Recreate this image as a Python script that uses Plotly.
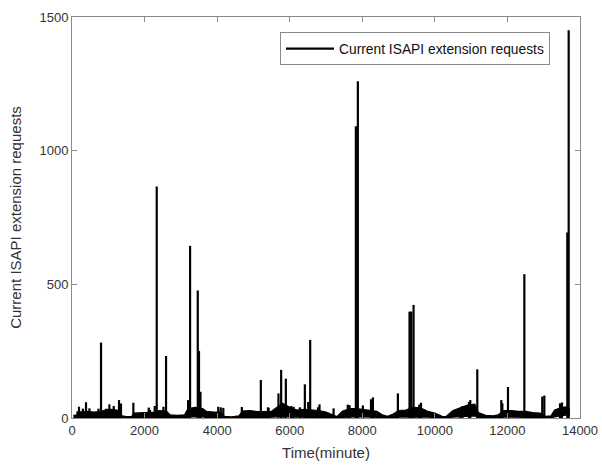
import plotly.graph_objects as go

# Baseline band (local low / high of the dense noisy series)
env_t = [40, 175, 200, 400, 600, 800, 900, 1100, 1300, 1380, 1500, 1650, 1700, 1900,
         2100, 2300, 2400, 2600, 2700, 2900, 3100, 3200, 3400, 3600, 3700, 3900, 4100,
         4200, 4400, 4600, 4700, 4900, 5100, 5300, 5500, 5650, 5800, 6000, 6200, 6400,
         6600, 6800, 7000, 7200, 7300, 7450, 7650, 7850, 8000, 8200, 8400, 8550, 8700,
         8850, 9000, 9200, 9400, 9600, 9800, 10000, 10200, 10300, 10500, 10700, 10900,
         11100, 11200, 11400, 11600, 11750, 11900, 12100, 12300, 12500, 12700, 12900,
         13050, 13200, 13300, 13500, 13650, 13720]
env_lo = [0, 1, 2, 3, 2, 3, 4, 4, 4, 1, 0, 0, 2, 2,
          2, 2, 4, 3, 1, 0, 1, 5, 6, 5, 2, 2, 2,
          0, 0, 0, 3, 4, 3, 2, 3, 5, 8, 4, 4, 4,
          4, 4, 2, 1, 0, 3, 5, 5, 5, 4, 3, 1, 0,
          1, 4, 4, 6, 6, 4, 2, 0, 0, 4, 6, 8,
          8, 3, 1, 0, 1, 4, 4, 4, 4, 2, 2,
          0, 1, 5, 10, 12, 8]
env_hi = [10, 12, 22, 25, 22, 24, 30, 32, 28, 8, 5, 6, 18, 20,
          22, 22, 28, 26, 12, 10, 12, 35, 40, 35, 25, 22, 22,
          6, 4, 8, 26, 28, 24, 24, 25, 40, 55, 40, 30, 32,
          30, 28, 22, 12, 5, 25, 35, 35, 32, 30, 25, 12, 6,
          15, 28, 30, 40, 38, 25, 18, 6, 5, 28, 38, 48,
          52, 20, 10, 8, 12, 28, 28, 25, 25, 20, 18,
          6, 8, 30, 40, 42, 30]

# Spikes (time, peak value)
spike_t = [150, 193, 300, 386, 480, 730, 800, 950, 1030, 1150, 1296, 1350, 1691, 2115,
           2150, 2280, 2335, 2520, 2592, 3200, 3254, 3466, 3500, 3540, 4030, 4100, 4170,
           4680, 5204, 5400, 5420, 5690, 5764, 5830, 5893, 6040, 6104, 6280, 6417, 6510,
           6564, 6780, 6821, 7208, 7600, 7650, 7823, 7878, 8016, 8240, 8292, 8981, 9302,
           9349, 9413, 9570, 9617, 10700, 10760, 10940, 10976, 11169, 11831, 11860, 12015,
           12466, 12960, 13017, 13450, 13504, 13650, 13688]
spike_v = [25, 42, 35, 59, 36, 35, 282, 35, 51, 45, 67, 54, 57, 39,
           30, 45, 866, 42, 232, 67, 644, 477, 251, 98, 42, 40, 38,
           41, 142, 40, 38, 92, 180, 50, 147, 45, 42, 40, 126, 60,
           292, 40, 51, 36, 50, 48, 1091, 1260, 47, 70, 77, 92, 398,
           398, 423, 50, 57, 38, 45, 60, 67, 182, 67, 55, 116,
           538, 80, 84, 55, 58, 694, 1450]

x_ticks = [0, 2000, 4000, 6000, 8000, 10000, 12000, 14000]
y_ticks = [0, 500, 1000, 1500]

sx, sy = [], []
for t, v in zip(spike_t, spike_v):
    sx += [t, t, None]
    sy += [0, v, None]

fig = go.Figure()
fig.add_trace(go.Scatter(x=env_t, y=env_hi, mode="lines",
                         line=dict(color="black", width=1.2), showlegend=False,
                         hoverinfo="skip"))
fig.add_trace(go.Scatter(x=env_t, y=env_lo, mode="lines", fill="tonexty",
                         fillcolor="black", line=dict(color="black", width=1.5),
                         showlegend=False, hoverinfo="skip"))
fig.add_trace(go.Scatter(x=sx, y=sy, mode="lines", line=dict(color="black", width=2.2),
                         name="Current ISAPI extension requests", connectgaps=False))

axis_common = dict(showline=True, linecolor="#8a8a8a", linewidth=1, mirror="ticks",
                   ticks="inside", ticklen=5, tickcolor="#8a8a8a", showgrid=False,
                   zeroline=False, automargin=False,
                   tickfont=dict(size=13, color="#333333"))

fig.update_layout(
    width=602, height=468,
    margin=dict(l=72, r=22, t=17, b=50, autoexpand=False),
    paper_bgcolor="white", plot_bgcolor="white",
    font=dict(family="Liberation Sans, Arial, sans-serif", color="#333333"),
    xaxis=dict(range=[0, 14000], tickvals=x_ticks, ticktext=[str(v) for v in x_ticks],
               title=dict(text="Time(minute)", font=dict(size=15), standoff=10),
               **axis_common),
    yaxis=dict(range=[0, 1500], tickvals=y_ticks, ticktext=[str(v) for v in y_ticks],
               title=dict(text="Current ISAPI extension requests", font=dict(size=15),
                          standoff=14),
               **axis_common),
    legend=dict(x=0.941, y=0.962, xanchor="right", yanchor="top",
                bgcolor="white", bordercolor="#8a8a8a", borderwidth=1,
                font=dict(size=13.8, color="#111111"), itemwidth=48,
                tracegroupgap=0),
    showlegend=True,
)

fig.write_html("out.html")
